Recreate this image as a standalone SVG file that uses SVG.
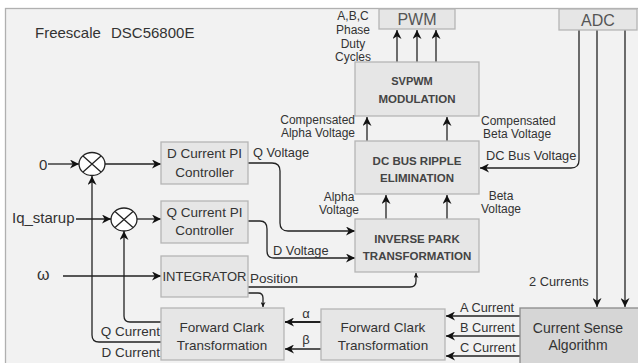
<svg xmlns="http://www.w3.org/2000/svg" width="638" height="363" viewBox="0 0 638 363">
<defs>
<marker id="arr" viewBox="0 0 10 10" refX="10" refY="5" markerWidth="9" markerHeight="9" markerUnits="userSpaceOnUse" orient="auto"><path d="M0,0 L10,5 L0,10 L3,5 z" fill="#111"/></marker>
<marker id="arrs" viewBox="0 0 10 10" refX="10" refY="5" markerWidth="5" markerHeight="5" markerUnits="userSpaceOnUse" orient="auto"><path d="M0,0 L10,5 L0,10 L3,5 z" fill="#111"/></marker>
<style>
text{font-family:"Liberation Sans",Arial,sans-serif;fill:#333}
.box{fill:#e6e6e6;stroke:#b5b5b5;stroke-width:1.3}
.bt{font-size:13.5px;text-anchor:middle}
.bb{font-size:11.5px;text-anchor:middle;font-weight:bold;fill:#444}
.lb{font-size:12.8px}
.l2{font-size:12px}
.ln{fill:none;stroke:#222;stroke-width:1.3}
.ar{marker-end:url(#arr)}
.as{marker-end:url(#arrs)}
.hd{font-size:16px;text-anchor:middle;fill:#555}
</style>
</defs>
<rect x="0" y="0" width="638" height="363" fill="#fff"/>
<rect x="5.5" y="8.5" width="640" height="360" fill="#f2f2f2" stroke="#b0b0b0" stroke-width="1.3"/>
<text x="35" y="38" style="font-size:15px">Freescale</text>
<text x="111" y="38" style="font-size:15px">DSC56800E</text>

<g id="connectors">
<path class="ln ar" d="M397,62 V30"/>
<path class="ln ar" d="M417,62 V30"/>
<path class="ln ar" d="M436,62 V30"/>
<path class="ln ar" d="M367,141 V117"/>
<path class="ln ar" d="M447,141 V117"/>
<path class="ln ar" d="M386,219 V195"/>
<path class="ln ar" d="M447,219 V195"/>
<path class="ln ar" d="M579,30 V160 Q579,168 571,168 H480"/>
<path class="ln ar" d="M597,30 V307"/>
<path class="ln ar" d="M625,30 V307"/>
<path class="ln ar" d="M520,316 H446"/>
<path class="ln ar" d="M520,336 H446"/>
<path class="ln ar" d="M520,356 H446"/>
<path class="ln ar" d="M321,322 H285" style="stroke-width:2"/>
<path class="ln ar" d="M321,349 H285"/>
<path class="ln ar" d="M48,164 H79"/>
<path class="ln ar" d="M76,219 H111"/>
<path class="ln ar" d="M105,164 H161"/>
<path class="ln ar" d="M137,219 H161"/>
<path class="ln ar" d="M63,276 H161"/>
<path class="ln ar" d="M248,163 H272 Q280,163 280,171 V223 Q280,231 288,231 H355"/>
<path class="ln ar" d="M248,221 H260 Q267,221 267,229 V251 Q267,258 274,258 H355"/>
<path class="ln as" d="M248,287 H410 Q416,287 416,281 V273"/>
<path class="ln as" d="M248,293 H258 Q263,293 263,298 V307"/>
<path class="ln ar" d="M161,322 H130 Q124,322 124,316 V231"/>
<path class="ln ar" d="M161,342 H99 Q92,342 92,335 V176"/>
</g>

<g id="pwm"><rect class="box" x="379" y="9" width="76" height="20"/><text class="hd" x="417" y="25">PWM</text></g>
<g id="adc"><rect class="box" x="559" y="9" width="78" height="21"/><text class="hd" x="598" y="25.5">ADC</text></g>

<g id="svpwm"><rect class="box" x="355" y="62" width="124" height="54"/><text class="bb" x="412" y="85" style="font-size:11px">SVPWM</text><text class="bb" x="417" y="103">MODULATION</text></g>
<g id="dcbus"><rect class="box" x="355" y="141" width="124" height="53"/><text class="bb" x="417" y="165">DC BUS RIPPLE</text><text class="bb" x="417" y="182">ELIMINATION</text></g>
<g id="invpark"><rect class="box" x="355" y="219" width="124" height="53"/><text class="bb" x="417" y="243">INVERSE PARK</text><text class="bb" x="417" y="260">TRANSFORMATION</text></g>

<g id="dpi"><rect class="box" x="161" y="142" width="87" height="42"/><text class="bt" x="204.5" y="158">D Current PI</text><text class="bt" x="204.5" y="177">Controller</text></g>
<g id="qpi"><rect class="box" x="161" y="201" width="87" height="42"/><text class="bt" x="204.5" y="217">Q Current PI</text><text class="bt" x="204.5" y="235">Controller</text></g>
<g id="integrator"><rect class="box" x="161" y="256" width="87" height="41"/><text class="bt" x="204.5" y="281" style="font-size:13px">INTEGRATOR</text></g>

<g id="fclark1"><rect class="box" x="161" y="308" width="123" height="52"/><text class="bt" x="222" y="332">Forward Clark</text><text class="bt" x="222" y="350">Transformation</text></g>
<g id="fclark2"><rect class="box" x="321" y="309" width="124" height="51"/><text class="bt" x="383" y="332">Forward Clark</text><text class="bt" x="383" y="350">Transformation</text></g>
<g id="csense"><rect x="520" y="308" width="125" height="60" fill="#d6d6d6" stroke="#8a8a8a" stroke-width="1.3"/><text class="bt" x="578" y="333" style="font-size:14px">Current Sense</text><text class="bt" x="578" y="350" style="font-size:14px">Algorithm</text></g>

<g id="sum1"><ellipse cx="92" cy="164" rx="13" ry="11.5" fill="#fff" stroke="#222" stroke-width="1.3"/><path class="ln" d="M83,156 L101,172 M101,156 L83,172"/></g>
<g id="sum2"><ellipse cx="124" cy="219.5" rx="13" ry="11.5" fill="#fff" stroke="#222" stroke-width="1.3"/><path class="ln" d="M115,211.5 L133,227.5 M133,211.5 L115,227.5"/></g>

<g id="labels">
<text class="l2" x="353" y="20" text-anchor="middle">A,B,C</text>
<text class="l2" x="353" y="34" text-anchor="middle">Phase</text>
<text class="l2" x="353" y="48" text-anchor="middle">Duty</text>
<text class="l2" x="353" y="61" text-anchor="middle">Cycles</text>
<text class="l2" x="355" y="124" text-anchor="end">Compensated</text>
<text class="l2" x="355" y="137" text-anchor="end">Alpha Voltage</text>
<text class="l2" x="481" y="125">Compensated</text>
<text class="l2" x="483" y="138">Beta  Voltage</text>
<text class="lb" x="486" y="160">DC Bus Voltage</text>
<text class="l2" x="339" y="201" text-anchor="middle">Alpha</text>
<text class="l2" x="339" y="214" text-anchor="middle">Voltage</text>
<text class="l2" x="501" y="200" text-anchor="middle">Beta</text>
<text class="l2" x="501" y="213" text-anchor="middle">Voltage</text>
<text class="lb" x="253" y="157">Q Voltage</text>
<text class="lb" x="273" y="255">D Voltage</text>
<text class="lb" x="250" y="283" style="font-size:13.5px">Position</text>
<text class="lb" x="529" y="286">2 Currents</text>
<text class="lb" x="460" y="312">A Current</text>
<text class="lb" x="460" y="332">B Current</text>
<text class="lb" x="460" y="352">C Current</text>
<text class="lb" x="306" y="318" text-anchor="middle" style="font-size:13px">α</text>
<text class="lb" x="306" y="344" text-anchor="middle" style="font-size:13px">β</text>
<text class="lb" x="160" y="336" text-anchor="end" style="font-size:13.5px">Q Current</text>
<text class="lb" x="160" y="357" text-anchor="end" style="font-size:13.5px">D Current</text>
<text x="39" y="170" style="font-size:15px">0</text>
<text x="12" y="223" style="font-size:15px">Iq_starup</text>
<text x="37" y="280" style="font-size:16px">ω</text>
</g>
</svg>
